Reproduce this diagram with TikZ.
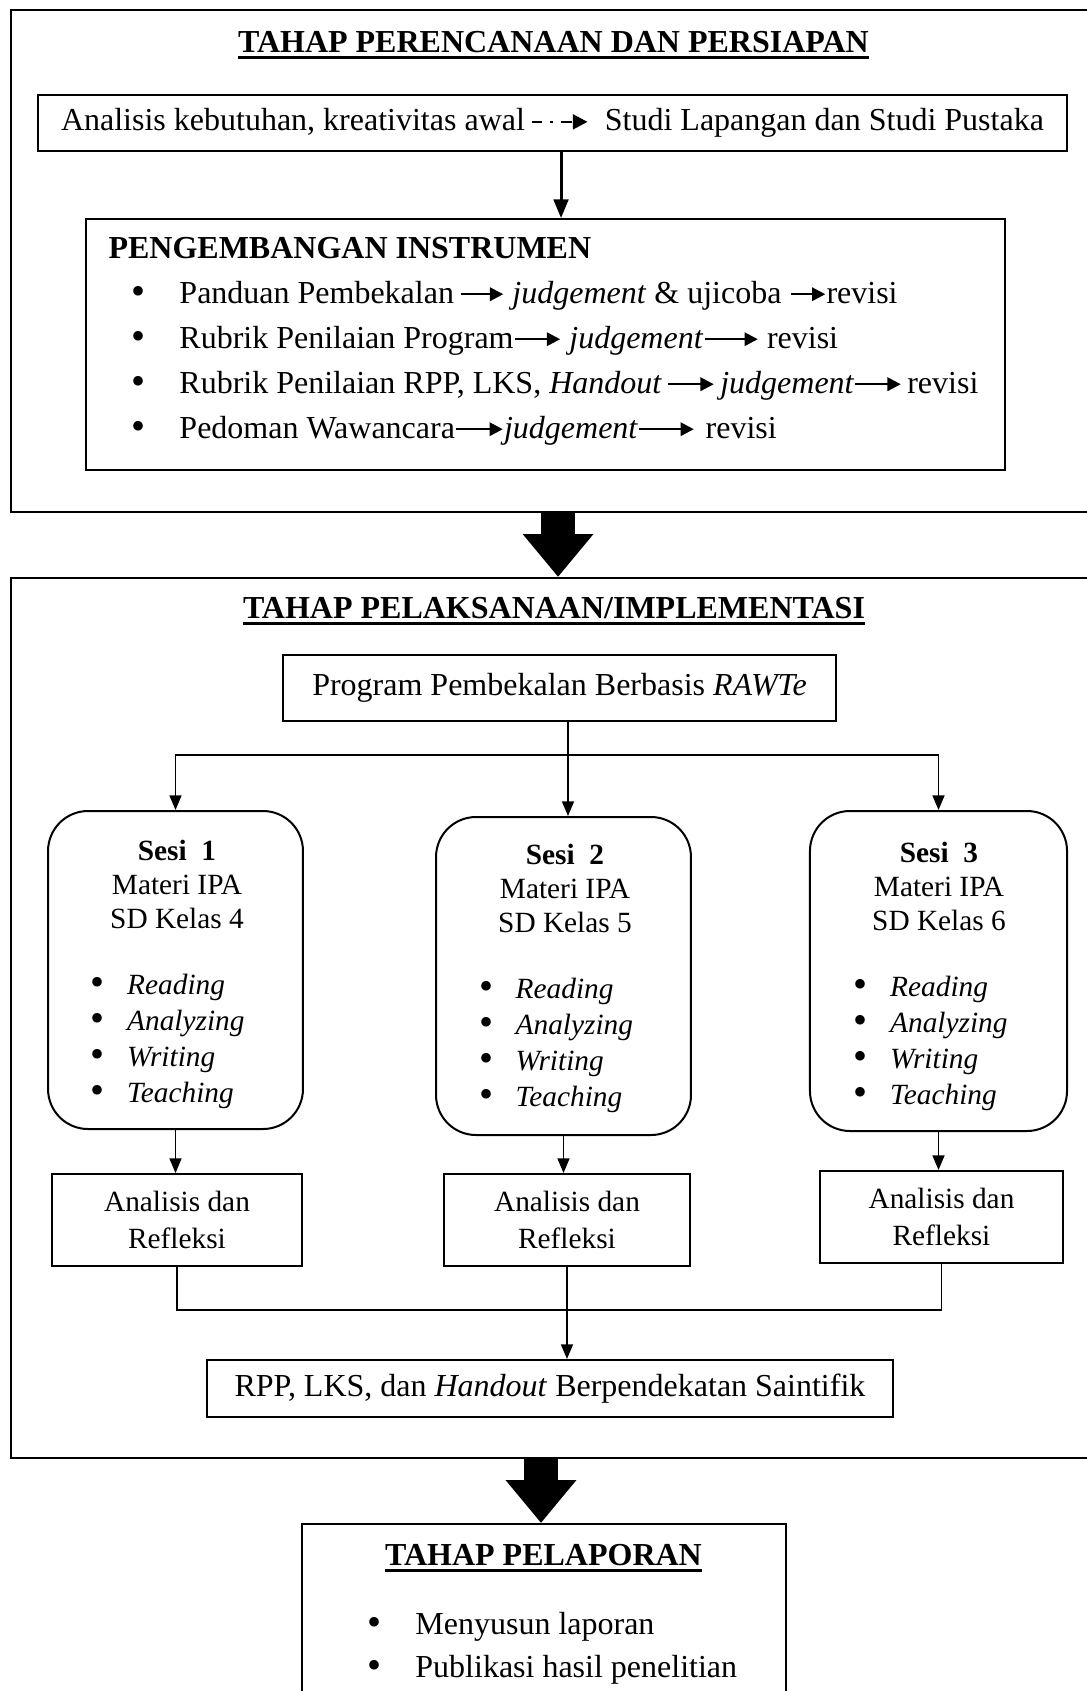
\documentclass[tikz,border=0pt]{standalone}
\usepackage{fontspec}
\setmainfont{Liberation Serif}
\usetikzlibrary{arrows.meta,positioning}

% small arrows inside the text
\newcommand{\ra}[1]{\tikz[baseline=-3.3pt]\draw[line width=0.9pt,-{Triangle[length=5pt,width=5pt]}] (0pt,0pt) -- (#1,0pt);}
\newcommand{\dashra}{\tikz[baseline=-3.3pt]\draw[line width=1pt,dash pattern=on 4pt off 3pt on 1.2pt off 3pt on 4pt off 10pt,-{Triangle[length=5.5pt,width=5.5pt]}] (0pt,0pt) -- (21pt,0pt);}
% bigger bullet
\newcommand{\bul}{\makebox[4.2pt][c]{\raisebox{-0.6pt}{\fontsize{15}{15}\selectfont\textbullet}}}
% thick underline for the stage titles
\newsavebox{\ulbox}
\newcommand{\thickul}[1]{\sbox{\ulbox}{#1}\rlap{\rule[-2.6pt]{\wd\ulbox}{1.1pt}}\usebox{\ulbox}}

\begin{document}
\begin{tikzpicture}[x=0.375pt, y=-0.375pt, line join=miter,
  every node/.style={font=\fontsize{12}{14.4}\selectfont},
  frame/.style={draw, line width=0.8pt, inner sep=0pt},
  box/.style={draw, line width=0.75pt, inner sep=0pt},
  sesibox/.style={draw, line width=0.75pt, rounded corners=15pt, inner sep=0pt},
  head/.style={font=\fontsize{12}{14.4}\selectfont\bfseries, inner sep=0pt, anchor=base},
  sesitext/.style={inner sep=0pt, font=\fontsize{11}{12.75}\selectfont},
  link/.style={line width=0.6pt},
  flow/.style={line width=0.6pt, -{Triangle[length=5.5pt,width=4.5pt]}},
  bigarrow/.style={line width=12.75pt, -{Triangle[length=16.1pt,width=25.5pt]}}]

  \useasboundingbox (0,0) rectangle (1087,1691);

  % Stage 1: planning
  \node[frame, minimum width=406.5pt, minimum height=188.25pt] (plan) at (553,261) {};
  \node[head] (planhead) at (553.5,52) {\thickul{TAHAP PERENCANAAN DAN PERSIAPAN}};

  \node[box, minimum width=385.9pt, minimum height=21pt] (needs) at (552.5,123)
    {Analisis kebutuhan, kreativitas awal\,\dashra\hspace{6pt}Studi Lapangan dan Studi Pustaka};

  \node[box, minimum width=344.6pt, minimum height=94.1pt] (instr) at (545.5,344.5) {};
  % base of a multi-line node = last line
  \node[anchor=base west, align=left, inner sep=0pt, font=\fontsize{12}{16.875}\selectfont] (instrlist) at (108,438)
    {\textbf{PENGEMBANGAN INSTRUMEN}\\
     \hspace*{9pt}\bul\hspace{13.4pt}Panduan Pembekalan\,\ra{16pt} \textit{judgement} \& ujicoba \ra{13pt}revisi\\
     \hspace*{9pt}\bul\hspace{13.4pt}Rubrik Penilaian Program\ra{17pt} \textit{judgement}\ra{20pt} revisi\\
     \hspace*{9pt}\bul\hspace{13.4pt}Rubrik Penilaian RPP, LKS, \textit{Handout}\,\ra{17pt}\,\textit{judgement}\ra{17pt}\,revisi\\
     \hspace*{9pt}\bul\hspace{13.4pt}Pedoman Wawancara\ra{17.5pt}\textit{judgement}\ra{20.5pt}\,\,revisi};

  \draw[line width=1.1pt, -{Triangle[length=7pt,width=5.5pt]}] ([xshift=3.2pt]needs.south) -- ([xshift=3.2pt]needs.south |- instr.north);

  % Stage 2: implementation
  \node[frame, minimum width=406.5pt, minimum height=330pt] (impl) at (553,1018) {};
  \draw[bigarrow] ([xshift=1.9pt]plan.south) -- ([xshift=1.9pt]plan.south |- impl.north);
  \node[head] (implhead) at (554,618) {\thickul{TAHAP PELAKSANAAN/IMPLEMENTASI}};

  \node[box, minimum width=207.4pt, minimum height=24.75pt] (prog) at (559.5,688) {Program Pembekalan Berbasis \textit{RAWTe}};

  % the three sessions
  \node[sesibox, minimum width=95.6pt, minimum height=119.25pt] (s1) at (175.5,970) {};
  \node[sesibox, minimum width=95.6pt, minimum height=119.25pt] (s2) at (563.5,976) {};
  \node[sesibox, minimum width=96.4pt, minimum height=120pt] (s3) at (938.5,971) {};

  \node[sesitext, align=center, anchor=base] (s1head) at (177,928) {\textbf{Sesi\ \ 1}\\Materi IPA\\SD Kelas 4};
  \node[sesitext, align=center, anchor=base] (s2head) at (565,932) {\textbf{Sesi\ \ 2}\\Materi IPA\\SD Kelas 5};
  \node[sesitext, align=center, anchor=base] (s3head) at (939,930) {\textbf{Sesi\ \ 3}\\Materi IPA\\SD Kelas 6};

  \node[sesitext, align=left, anchor=base west, font=\fontsize{11}{13.5}\selectfont] (s1list) at (91.5,1102)
    {\bul\hspace{9pt}\textit{Reading}\\\bul\hspace{9pt}\textit{Analyzing}\\\bul\hspace{9pt}\textit{Writing}\\\bul\hspace{9pt}\textit{Teaching}};
  \node[sesitext, align=left, anchor=base west, font=\fontsize{11}{13.5}\selectfont] (s2list) at (480,1106)
    {\bul\hspace{9pt}\textit{Reading}\\\bul\hspace{9pt}\textit{Analyzing}\\\bul\hspace{9pt}\textit{Writing}\\\bul\hspace{9pt}\textit{Teaching}};
  \node[sesitext, align=left, anchor=base west, font=\fontsize{11}{13.5}\selectfont] (s3list) at (854.5,1104)
    {\bul\hspace{9pt}\textit{Reading}\\\bul\hspace{9pt}\textit{Analyzing}\\\bul\hspace{9pt}\textit{Writing}\\\bul\hspace{9pt}\textit{Teaching}};

  \coordinate (fork) at (568,755);
  \draw[link] (prog.south -| fork) -- (fork);
  \draw[flow] (fork) -- (fork |- s2.north);
  \draw[flow] (fork) -| (s1.north);
  \draw[flow] (fork) -| (s3.north);

  % analysis and reflection
  \node[box, minimum width=93.75pt, minimum height=34.5pt, align=center, font=\fontsize{11}{13.9}\selectfont] (a1) at (177,1220) {Analisis dan\\Refleksi};
  \node[box, minimum width=92.25pt, minimum height=34.5pt, align=center, font=\fontsize{11}{13.9}\selectfont] (a2) at (567,1220) {Analisis dan\\Refleksi};
  \node[box, minimum width=91.1pt, minimum height=34.5pt, align=center, font=\fontsize{11}{13.9}\selectfont] (a3) at (941.5,1217) {Analisis dan\\Refleksi};

  \draw[flow] (s1.south) -- (s1.south |- a1.north);
  \draw[flow] (s2.south) -- (s2.south |- a2.north);
  \draw[flow] (s3.south) -- (s3.south |- a3.north);

  \node[box, minimum width=257.25pt, minimum height=21.4pt] (rpp) at (550,1388.5) {RPP, LKS, dan \textit{Handout} Berpendekatan Saintifik};

  \coordinate (join) at (567,1310);
  \draw[link] (a1.south) |- (join) -| (a3.south);
  \draw[flow] (a2.south) -- (a2.south |- rpp.north);

  % Stage 3: reporting
  \node[box, minimum width=181.5pt, minimum height=73.5pt] (report) at (544,1622) {};
  \draw[bigarrow] ([xshift=-4.5pt]impl.south) -- ([xshift=-4.5pt]impl.south |- report.north);
  \node[head] (rephead) at (543.5,1565) {\thickul{TAHAP PELAPORAN}};
  \node[anchor=base west, align=left, inner sep=0pt, font=\fontsize{12}{16.1}\selectfont] (replist) at (368.5,1677)
    {\bul\hspace{13.2pt}Menyusun laporan\\\bul\hspace{13.2pt}Publikasi hasil penelitian};
\end{tikzpicture}
\end{document}
